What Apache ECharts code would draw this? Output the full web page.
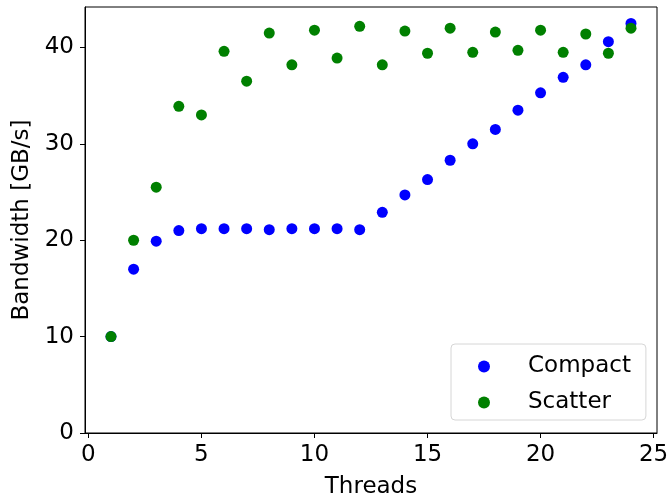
<!DOCTYPE html>
<html>
<head>
<meta charset="utf-8">
<script src="https://cdn.jsdelivr.net/npm/echarts@6/dist/echarts.min.js"></script>
<style>
  html, body { margin: 0; padding: 0; background: #fff; }
  #chart { width: 668px; height: 499px; }
</style>
</head>
<body>
<div id="chart"></div>
<script>
// Thread counts on the x axis
const threads = [1, 2, 3, 4, 5, 6, 7, 8, 9, 10, 11, 12, 13, 14, 15, 16, 17, 18, 19, 20, 21, 22, 23, 24];

// Measured bandwidth (GB/s) for each thread-placement policy
const compact = [10.0, 17.0, 19.9, 21.0, 21.2, 21.2, 21.2, 21.1, 21.2, 21.2, 21.2, 21.1,
                 22.9, 24.7, 26.3, 28.3, 30.0, 31.5, 33.5, 35.3, 36.9, 38.2, 40.6, 42.5];
const scatter = [10.0, 20.0, 25.5, 33.9, 33.0, 39.6, 36.5, 41.5, 38.2, 41.8, 38.9, 42.2,
                 38.2, 41.7, 39.4, 42.0, 39.5, 41.6, 39.7, 41.8, 39.5, 41.4, 39.4, 42.0];

// Tick positions
const xTicks = [0, 5, 10, 15, 20, 25];
const yTicks = [0, 10, 20, 30, 40];

const font = 'DejaVu Sans';
const fs = 23;
const pairs = vals => threads.map((t, i) => [t, vals[i]]);

const chart = echarts.init(document.getElementById('chart'), null, { renderer: 'canvas' });
chart.setOption({
  animation: false,
  backgroundColor: '#fff',
  textStyle: { fontFamily: font },
  grid: {
    left: 85, right: 11, top: 7, bottom: 66,
    containLabel: false,
    outerBoundsMode: 'none',
    show: true, borderColor: '#000', borderWidth: 1
  },
  xAxis: {
    type: 'value',
    min: -0.15, max: 25.15,
    name: 'Threads',
    nameLocation: 'middle',
    nameGap: 43,
    nameTextStyle: { fontSize: fs, color: '#000', fontFamily: font },
    axisLine: { show: true, onZero: false, lineStyle: { color: '#000', width: 1 } },
    axisTick: { show: true, inside: false, length: 5, customValues: xTicks, lineStyle: { color: '#000' } },
    axisLabel: { customValues: xTicks, fontSize: fs, color: '#000', margin: 11, fontFamily: font },
    splitLine: { show: false }
  },
  yAxis: {
    type: 'value',
    min: 0, max: 44.2,
    name: 'Bandwidth [GB/s]',
    nameLocation: 'middle',
    nameGap: 48,
    nameTextStyle: { fontSize: fs, color: '#000', fontFamily: font },
    axisLine: { show: true, onZero: false, lineStyle: { color: '#000', width: 1 } },
    axisTick: { show: true, inside: false, length: 5, customValues: yTicks, lineStyle: { color: '#000' } },
    axisLabel: { customValues: yTicks, fontSize: fs, color: '#000', margin: 11, fontFamily: font },
    splitLine: { show: false }
  },
  legend: {
    orient: 'vertical',
    left: 451, top: 344,
    backgroundColor: 'rgba(255,255,255,0.8)',
    borderColor: '#d6d6d6',
    borderWidth: 1,
    borderRadius: 4,
    padding: [11, 15, 6, 27],
    itemGap: 13,
    itemWidth: 12, itemHeight: 12,
    icon: 'circle',
    textStyle: { fontSize: fs, color: '#000', fontFamily: font, padding: [0, 0, 0, 33] },
    data: ['Compact', 'Scatter']
  },
  series: [
    {
      name: 'Compact', type: 'scatter', symbol: 'circle', symbolSize: 11,
      itemStyle: { color: '#0000ff', opacity: 1 },
      data: pairs(compact)
    },
    {
      name: 'Scatter', type: 'scatter', symbol: 'circle', symbolSize: 11,
      itemStyle: { color: '#008000', opacity: 1 },
      data: pairs(scatter)
    }
  ]
});
</script>
</body>
</html>
